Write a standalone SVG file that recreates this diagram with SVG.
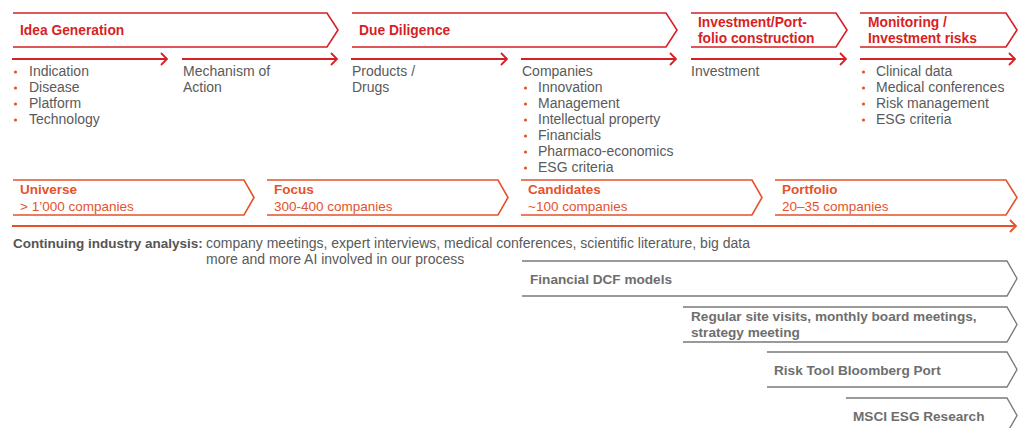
<svg xmlns="http://www.w3.org/2000/svg" width="1018" height="428" viewBox="0 0 1018 428">
<defs>
<style>
.bg{fill:#fff}
.cr{fill:none;stroke:#d71f26;stroke-width:1.6}
.co{fill:none;stroke:#e4532b;stroke-width:1.6}
.cg{fill:none;stroke:#7a7a7a;stroke-width:1.4}
.ar{fill:none;stroke:#d71f26;stroke-width:1.8}
.ao{fill:none;stroke:#e4532b;stroke-width:1.8}
text{font-family:"Liberation Sans",Arial,sans-serif}
.tr{font-size:13.8px;font-weight:bold;fill:#d71f26}
.to{font-size:13.5px;font-weight:bold;fill:#e4532b}
.so{font-size:13.5px;fill:#e4532b}
.t{font-size:14px;fill:#5a5a5a}
.b{fill:#e4532b}
.tb{font-size:13.5px;font-weight:bold;fill:#555}
.tg{font-size:13.6px;font-weight:bold;fill:#6e6e6e}
</style>
</defs>
<rect class="bg" width="1018" height="428"/>

<g id="phase-idea">
<path class="cr" d="M13,13 H327 L338,30 L327,47 H13"/>
<text class="tr" x="20" y="35">Idea Generation</text>
</g>
<g id="phase-dd">
<path class="cr" d="M352,13 H666 L677,30 L666,47 H352"/>
<text class="tr" x="359" y="35">Due Diligence</text>
</g>
<g id="phase-invest">
<path class="cr" d="M691,13 H836 L847,30 L836,47 H691"/>
<text class="tr" x="698" y="27">Investment/Port-</text>
<text class="tr" x="698" y="43">folio construction</text>
</g>
<g id="phase-monitor">
<path class="cr" d="M860,13 H1006 L1017,30 L1006,47 H860"/>
<text class="tr" x="868" y="27">Monitoring /</text>
<text class="tr" x="868" y="43">Investment risks</text>
</g>

<g id="connectors">
<path class="ar" d="M12,59 H167 M161,53 L167,59 L161,65"/>
<path class="ar" d="M182,59 H337 M331,53 L337,59 L331,65"/>
<path class="ar" d="M351,59 H507 M501,53 L507,59 L501,65"/>
<path class="ar" d="M521,59 H676 M670,53 L676,59 L670,65"/>
<path class="ar" d="M691,59 H846 M840,53 L846,59 L840,65"/>
<path class="ar" d="M860,59 H1015 M1009,53 L1015,59 L1009,65"/>
<path class="ao" d="M12,226 H1016 M1010,220 L1016,226 L1010,232"/>
</g>

<g id="list-idea">
<circle class="b" cx="15.5" cy="72" r="1.6"/><text class="t" x="29" y="76">Indication</text>
<circle class="b" cx="15.5" cy="88" r="1.6"/><text class="t" x="29" y="92">Disease</text>
<circle class="b" cx="15.5" cy="104" r="1.6"/><text class="t" x="29" y="108">Platform</text>
<circle class="b" cx="15.5" cy="120" r="1.6"/><text class="t" x="29" y="124">Technology</text>
</g>
<g id="list-moa">
<text class="t" x="183" y="76">Mechanism of</text>
<text class="t" x="183" y="92">Action</text>
</g>
<g id="list-products">
<text class="t" x="352" y="76">Products /</text>
<text class="t" x="352" y="92">Drugs</text>
</g>
<g id="list-companies">
<text class="t" x="522" y="76">Companies</text>
<circle class="b" cx="525.5" cy="88" r="1.6"/><text class="t" x="538" y="92">Innovation</text>
<circle class="b" cx="525.5" cy="104" r="1.6"/><text class="t" x="538" y="108">Management</text>
<circle class="b" cx="525.5" cy="120" r="1.6"/><text class="t" x="538" y="124">Intellectual property</text>
<circle class="b" cx="525.5" cy="136" r="1.6"/><text class="t" x="538" y="140">Financials</text>
<circle class="b" cx="525.5" cy="152" r="1.6"/><text class="t" x="538" y="156">Pharmaco-economics</text>
<circle class="b" cx="525.5" cy="168" r="1.6"/><text class="t" x="538" y="172">ESG criteria</text>
</g>
<g id="list-investment">
<text class="t" x="691" y="76">Investment</text>
</g>
<g id="list-monitor">
<circle class="b" cx="863.5" cy="72" r="1.6"/><text class="t" x="876" y="76">Clinical data</text>
<circle class="b" cx="863.5" cy="88" r="1.6"/><text class="t" x="876" y="92">Medical conferences</text>
<circle class="b" cx="863.5" cy="104" r="1.6"/><text class="t" x="876" y="108">Risk management</text>
<circle class="b" cx="863.5" cy="120" r="1.6"/><text class="t" x="876" y="124">ESG criteria</text>
</g>

<g id="stage-universe">
<path class="co" d="M13,180 H244 L254,197.5 L244,215 H13"/>
<text class="to" x="20" y="194">Universe</text>
<text class="so" x="20" y="211">&gt; 1’000 companies</text>
</g>
<g id="stage-focus">
<path class="co" d="M267,180 H498 L508,197.5 L498,215 H267"/>
<text class="to" x="274" y="194">Focus</text>
<text class="so" x="274" y="211">300-400 companies</text>
</g>
<g id="stage-candidates">
<path class="co" d="M521,180 H752 L762,197.5 L752,215 H521"/>
<text class="to" x="528" y="194">Candidates</text>
<text class="so" x="528" y="211">~100 companies</text>
</g>
<g id="stage-portfolio">
<path class="co" d="M775,180 H1006 L1017,197.5 L1006,215 H775"/>
<text class="to" x="782" y="194">Portfolio</text>
<text class="so" x="782" y="211">20–35 companies</text>
</g>

<g id="analysis">
<text class="tb" x="13" y="248">Continuing industry analysis:</text>
<text class="t" x="206" y="248">company meetings, expert interviews, medical conferences, scientific literature, big data</text>
<text class="t" x="206" y="264">more and more AI involved in our process</text>
</g>

<g id="tool-dcf">
<path class="cg" d="M522,261 H1007 L1017,278.5 L1007,296 H522"/>
<text class="tg" x="530" y="284">Financial DCF models</text>
</g>
<g id="tool-visits">
<path class="cg" d="M683,307 H1007 L1017,324.5 L1007,342 H683"/>
<text class="tg" x="691" y="321">Regular site visits, monthly board meetings,</text>
<text class="tg" x="691" y="337">strategy meeting</text>
</g>
<g id="tool-risk">
<path class="cg" d="M767,352 H1007 L1017,369.5 L1007,387 H767"/>
<text class="tg" x="774" y="375">Risk Tool Bloomberg Port</text>
</g>
<g id="tool-msci">
<path class="cg" d="M846,398 H1007 L1017,415.5 L1007,433 H846"/>
<text class="tg" x="853" y="421">MSCI ESG Research</text>
</g>
</svg>
